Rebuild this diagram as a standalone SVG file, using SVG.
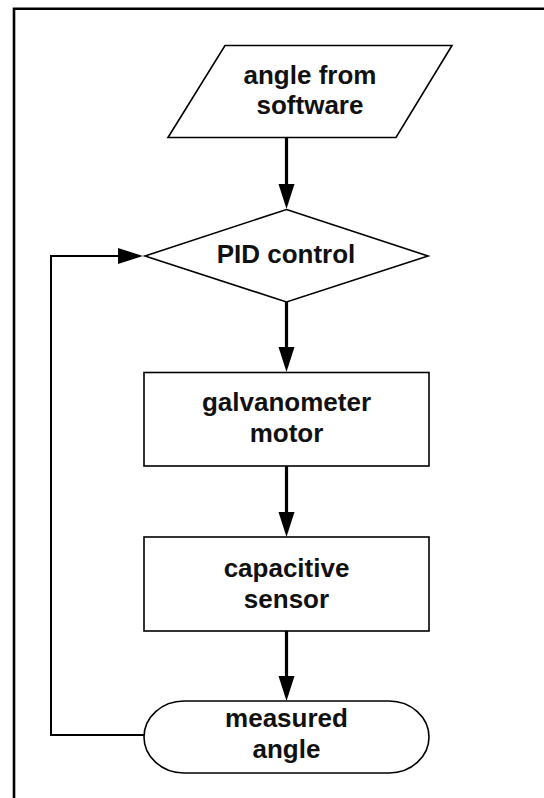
<svg xmlns="http://www.w3.org/2000/svg" width="544" height="798" viewBox="0 0 544 798">
  <style>
    .node { fill: #ffffff; stroke: #000000; stroke-width: 1.6; }
    .label { font-family: "Liberation Sans", Arial, sans-serif; font-weight: bold; font-size: 26px; fill: #111111; text-anchor: middle; }
    .flow { fill: none; stroke: #000000; stroke-width: 3.2; }
    .loop { fill: none; stroke: #000000; stroke-width: 2; }
    .frame { fill: none; stroke: #000000; stroke-width: 2.6; }
  </style>
  <defs>
    <!-- arrowhead base sits at the path end, tip extends forward -->
    <marker id="head" markerUnits="userSpaceOnUse" markerWidth="26" markerHeight="18" refX="0" refY="8" orient="auto">
      <path d="M0,0 L25,8 L0,16 Z" fill="#000000"/>
    </marker>
  </defs>

  <rect width="544" height="798" fill="#ffffff"/>

  <!-- page frame (top and left edges) -->
  <path class="frame" d="M14,798 V8.7 H544"/>

  <g id="connectors">
    <path class="flow" d="M286.5,138 V184" marker-end="url(#head)"/>
    <path class="flow" d="M286.5,302 V347" marker-end="url(#head)"/>
    <path class="flow" d="M286.5,466 V512" marker-end="url(#head)"/>
    <path class="flow" d="M286.5,631 V676" marker-end="url(#head)"/>
    <path class="loop" d="M144,735 H51 V256 H118" marker-end="url(#head)"/>
  </g>

  <g id="input">
    <polygon class="node" points="225,45.5 452,45.5 396,137.5 168,137.5"/>
    <text class="label" x="310" y="84">angle from</text>
    <text class="label" x="310" y="114">software</text>
  </g>

  <g id="pid">
    <polygon class="node" points="286.5,209.5 428,256 286.5,302 145,256"/>
    <text class="label" x="286" y="263">PID control</text>
  </g>

  <g id="motor">
    <rect class="node" x="144" y="372.5" width="285" height="93.5"/>
    <text class="label" x="286.5" y="411">galvanometer</text>
    <text class="label" x="286.5" y="442">motor</text>
  </g>

  <g id="sensor">
    <rect class="node" x="144" y="537" width="285" height="94"/>
    <text class="label" x="286.5" y="577">capacitive</text>
    <text class="label" x="286.5" y="608">sensor</text>
  </g>

  <g id="output">
    <rect class="node" x="144" y="701" width="285" height="72" rx="40" ry="36"/>
    <text class="label" x="286.5" y="727">measured</text>
    <text class="label" x="286.5" y="758">angle</text>
  </g>
</svg>
